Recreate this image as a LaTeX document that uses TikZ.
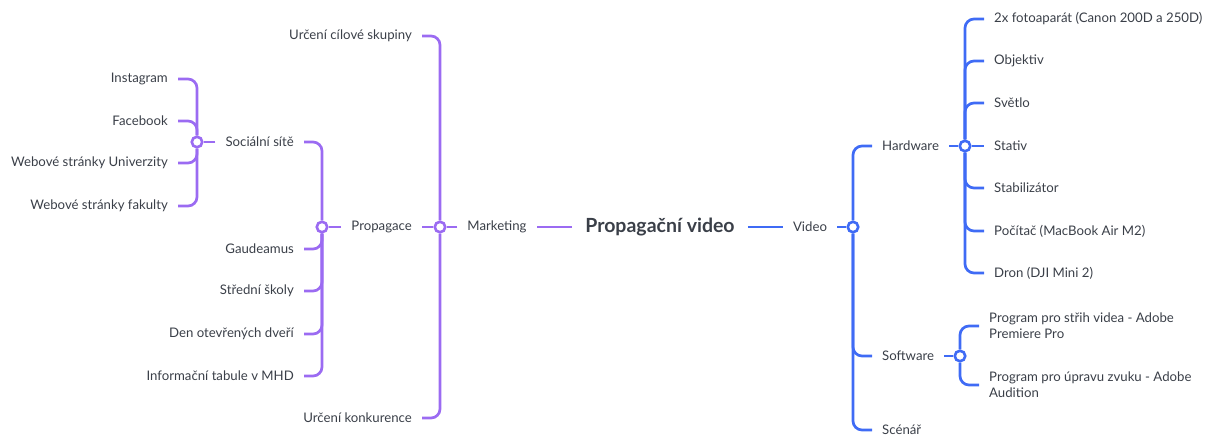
\documentclass[tikz,border=0pt]{standalone}
\usepackage{fontspec}
\setmainfont{Lato}
\definecolor{purplebranch}{HTML}{9B6BF2}
\definecolor{bluebranch}{HTML}{3F6BF5}
\definecolor{topictext}{HTML}{3A3F48}
\tikzset{
  topic/.style={text=topictext, font=\fontsize{13.2}{16}\selectfont, inner xsep=10pt, inner ysep=2pt},
  lefttopic/.style={topic, anchor=east},
  righttopic/.style={topic, anchor=west},
  hub/.style={circle, draw=#1, fill=white, line width=2.6pt, minimum size=10.5pt, inner sep=0pt},
  branch/.style={line width=2.7pt, rounded corners=9pt},
}
\begin{document}
\begin{tikzpicture}[x=1pt, y=-1pt]
\clip (0,0) rectangle (1210,439);
  \node[topic, font=\fontsize{19.5}{22}\bfseries, inner xsep=13pt] (root) at (660,227) {Propagační video};
  % marketing side
  \node[topic] (marketing) at (497,227) {Marketing};
  \node[hub=purplebranch] (mhub) at (440,227) {};
  \node[lefttopic] (cilova) at (422,36) {Určení cílové skupiny};
  \node[lefttopic] (propagace) at (422,227) {Propagace};
  \node[lefttopic] (konkurence) at (422,418) {Určení konkurence};
  \node[hub=purplebranch] (phub) at (322,227) {};
  \node[lefttopic] (socialni) at (304,142) {Sociální sítě};
  \node[lefttopic] (gaudeamus) at (304,249) {Gaudeamus};
  \node[lefttopic] (skoly) at (304,291) {Střední školy};
  \node[lefttopic] (dod) at (304,334) {Den otevřených dveří};
  \node[lefttopic] (mhd) at (304,376) {Informační tabule v MHD};
  \node[hub=purplebranch] (shub) at (197,142) {};
  \node[lefttopic] (instagram) at (178,79) {Instagram};
  \node[lefttopic] (facebook) at (178,121) {Facebook};
  \node[lefttopic] (univerzita) at (178,163) {Webové stránky Univerzity};
  \node[lefttopic] (fakulta) at (178,206) {Webové stránky fakulty};
  % video side
  \node[topic] (video) at (810,227) {Video};
  \node[hub=bluebranch] (vhub) at (853,227) {};
  \node[righttopic] (hardware) at (872,146) {Hardware};
  \node[righttopic] (software) at (872,356) {Software};
  \node[righttopic] (scenar) at (872,430) {Scénář};
  \node[hub=bluebranch] (hhub) at (965,146) {};
  \node[righttopic] (foto) at (984,19) {2x fotoaparát (Canon 200D a 250D)};
  \node[righttopic] (objektiv) at (984,61) {Objektiv};
  \node[righttopic] (svetlo) at (984,103) {Světlo};
  \node[righttopic] (stativ) at (984,146) {Stativ};
  \node[righttopic] (stab) at (984,188) {Stabilizátor};
  \node[righttopic] (pocitac) at (984,231) {Počítač (MacBook Air M2)};
  \node[righttopic] (dron) at (984,273) {Dron (DJI Mini 2)};
  \node[hub=bluebranch] (swhub) at (960,356) {};
  \node[righttopic, align=left] (strih) at (979,326) {Program pro střih videa - Adobe\\Premiere Pro};
  \node[righttopic, align=left] (zvuk) at (979,385) {Program pro úpravu zvuku - Adobe\\Audition};

  \draw[branch, purplebranch] (root) -- (marketing);
  \draw[branch, purplebranch] (marketing) -- (mhub);
  \draw[branch, purplebranch] (mhub) |- (cilova);
  \draw[branch, purplebranch] (mhub) -- (propagace);
  \draw[branch, purplebranch] (mhub) |- (konkurence);
  \draw[branch, purplebranch] (propagace) -- (phub);
  \draw[branch, purplebranch] (phub) |- (socialni);
  \draw[branch, purplebranch] (phub) |- (gaudeamus);
  \draw[branch, purplebranch] (phub) |- (skoly);
  \draw[branch, purplebranch] (phub) |- (dod);
  \draw[branch, purplebranch] (phub) |- (mhd);
  \draw[branch, purplebranch] (socialni) -- (shub);
  \draw[branch, purplebranch] (shub) |- (instagram);
  \draw[branch, purplebranch] (shub) |- (facebook);
  \draw[branch, purplebranch] (shub) |- (univerzita);
  \draw[branch, purplebranch] (shub) |- (fakulta);

  \draw[branch, bluebranch] (root) -- (video);
  \draw[branch, bluebranch] (video) -- (vhub);
  \draw[branch, bluebranch] (vhub) |- (hardware);
  \draw[branch, bluebranch] (vhub) |- (software);
  \draw[branch, bluebranch] (vhub) |- (scenar);
  \draw[branch, bluebranch] (hardware) -- (hhub);
  \draw[branch, bluebranch] (hhub) |- (foto);
  \draw[branch, bluebranch] (hhub) |- (objektiv);
  \draw[branch, bluebranch] (hhub) |- (svetlo);
  \draw[branch, bluebranch] (hhub) -- (stativ);
  \draw[branch, bluebranch] (hhub) |- (stab);
  \draw[branch, bluebranch] (hhub) |- (pocitac);
  \draw[branch, bluebranch] (hhub) |- (dron);
  \draw[branch, bluebranch] (software) -- (swhub);
  \draw[branch, bluebranch] (swhub) |- (strih);
  \draw[branch, bluebranch] (swhub) |- (zvuk);
\end{tikzpicture}
\end{document}
